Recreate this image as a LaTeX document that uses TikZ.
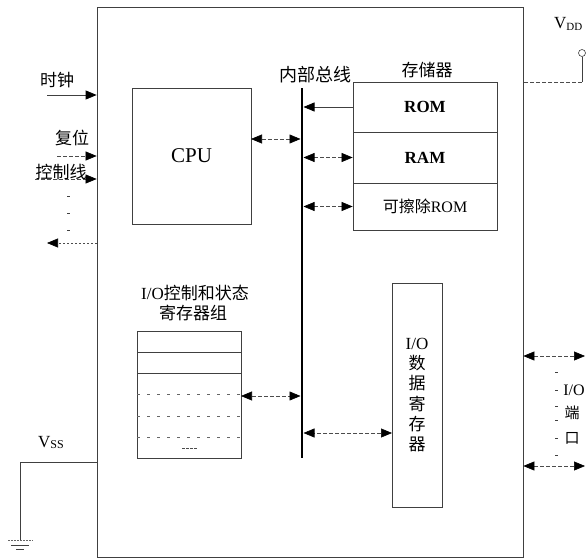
\documentclass[tikz,border=0pt]{standalone}
\usepackage{fontspec}
\setmainfont{Liberation Serif}
\newfontfamily\cjk{Noto Sans CJK SC}
\usetikzlibrary{arrows.meta,calc}
\begin{document}
\begin{tikzpicture}[x=1pt,y=-1pt,
  box/.style={draw=black!75, line width=0.7pt, inner sep=0pt},
  tip/.style={-{Triangle[length=11pt,width=9pt,color=black]}},
  dtip/.style={{Triangle[length=11pt,width=9pt,color=black]}-{Triangle[length=11pt,width=9pt,color=black]}},
  dsh/.style={draw=black!70, line width=0.6pt, dash pattern=on 4pt off 2pt},
  sol/.style={draw=black!75, line width=0.7pt},
  sparse/.style={draw=black!60, line width=0.6pt, dash pattern=on 3pt off 7pt},
  lbl/.style={inner sep=0pt, font=\fontsize{17}{17}\selectfont},
  cj/.style={inner sep=0pt, font=\cjk\fontsize{17}{17}\selectfont},
]
\useasboundingbox (0,0) rectangle (586,559);

% chip outline
\node[box, minimum width=426pt, minimum height=550pt] (chip) at (310,282) {};

% CPU
\node[box, minimum width=119pt, minimum height=136pt, font=\fontsize{21}{21}\selectfont] (cpu) at (191.5,156) {CPU};

% internal bus
\node[fill=black, inner sep=0pt, minimum width=2.6pt, minimum height=370pt] (bus) at (302,273) {};
\node[cj, font=\cjk\fontsize{18}{18}\selectfont] (buslbl) at (315,75) {内部总线};

% memory
\node[cj] (memlbl) at (427,70) {存储器};
\node[box, minimum width=144pt, minimum height=50pt, font=\bfseries\fontsize{17}{17}\selectfont] (rom) at (425,107) {ROM};
\node[box, minimum width=144pt, minimum height=51pt, font=\bfseries\fontsize{17}{17}\selectfont] (ram) at (425,157.5) {RAM};
\node[box, minimum width=144pt, minimum height=47pt, font=\fontsize{16}{16}\selectfont] (erom) at (425,206.5) {{\cjk 可擦除}ROM};

\draw[tip, sol] (rom.west) -- (rom.west -| bus.east);
\draw[dtip, dsh] (ram.west) -- (ram.west -| bus.east);
\draw[dtip, dsh] (erom.west) -- (erom.west -| bus.east);

\coordinate (cpuP) at (251,139);
\draw[dtip, dsh] (cpuP) -- (cpuP -| bus.west);

% VDD
\node[anchor=west, inner sep=0pt, font=\fontsize{17}{17}\selectfont] (vdd) at (554,24) {V\raisebox{-1.5pt}{\fontsize{11}{11}\selectfont DD}};
\node[draw=black!75, circle, minimum size=7pt, inner sep=0pt, line width=0.6pt] (vddpin) at (582,53) {};
\coordinate (vddc) at (582,82);
\draw[sol] (vddpin.south) -- (vddc);
\draw[dsh] (vddc) -- (vddc -| chip.east);

% left control inputs
\node[cj] (clk) at (57,80) {时钟};
\coordinate (clkS) at (47,95);
\draw[tip, sol] (clkS) -- (clkS -| chip.west);
\node[cj] (rst) at (72,138) {复位};
\coordinate (rstS) at (57,156);
\draw[tip, dsh] (rstS) -- (rstS -| chip.west);
\node[cj] (ctl) at (61,172) {控制线};
\coordinate (ctlS) at (35,179);
\draw[tip, dsh] (ctlS) -- (ctlS -| chip.west);
\foreach \yy in {196,213,230} \draw[sol] (67,\yy) -- (70,\yy);
\coordinate (outE) at (47,243);
\draw[tip, draw=black!70, line width=0.6pt, dash pattern=on 2pt off 2pt] (outE -| chip.west) -- (outE);

% I/O control and status registers
\node[lbl] (ioctl) at (195,293) {I/O{\cjk 控制和状态}};
\node[cj] (ioctl2) at (193,313) {寄存器组};
\node[box, minimum width=104pt, minimum height=127pt] (iobox) at (189,394.5) {};
\draw[sol] (137,352) -- (241,352);
\draw[sol] (137,373) -- (241,373);
\draw[sparse] (137,394) -- (241,394);
\draw[sparse] (137,416) -- (241,416);
\draw[sparse] (137,437) -- (241,437);
\draw[draw=black!70, line width=0.6pt, dash pattern=on 3pt off 1pt] (182,448) -- (198,448);
\coordinate (ioP) at (241,396);
\draw[dtip, dsh] (ioP) -- (ioP -| bus.west);

% I/O data register
\node[box, minimum width=50pt, minimum height=224pt, align=center, font=\fontsize{17}{20.3}\selectfont] (iodata) at (417,395) {I/O\\{\cjk 数}\\{\cjk 据}\\{\cjk 寄}\\{\cjk 存}\\{\cjk 器}};
\coordinate (bd) at (392,433);
\draw[dtip, dsh] (bd) -- (bd -| bus.east);

% I/O ports
\coordinate (p1) at (585,356);
\coordinate (p2) at (585,466);
\draw[dtip, dsh] (p1 -| chip.east) -- (p1);
\draw[dtip, dsh] (p2 -| chip.east) -- (p2);
\node[inner sep=0pt, font=\fontsize{16}{16}\selectfont] (iop) at (574,390) {I/O};
\node[inner sep=0pt, font=\cjk\fontsize{15}{15}\selectfont] (duan) at (572,413) {端};
\node[inner sep=0pt, font=\cjk\fontsize{15}{15}\selectfont] (kou) at (572,438) {口};
\foreach \yy in {372,390,406,420,438,455} \draw[sol] (555,\yy) -- (558,\yy);

% VSS and ground
\node[anchor=west, inner sep=0pt, font=\fontsize{17}{17}\selectfont] (vss) at (38,442) {V\raisebox{-1pt}{\fontsize{12}{12}\selectfont SS}};
\coordinate (vssP) at (97,462);
\coordinate (gnd) at (20,540);
\draw[sol] (vssP -| chip.west) -| (gnd);
\draw[draw=black!60, line width=0.6pt, dash pattern=on 1.5pt off 1.5pt] (8,540) -- (33,540);
\draw[sol] (11,545) -- (29,545);
\draw[sol] (16,549) -- (24,549);
\end{tikzpicture}
\end{document}
